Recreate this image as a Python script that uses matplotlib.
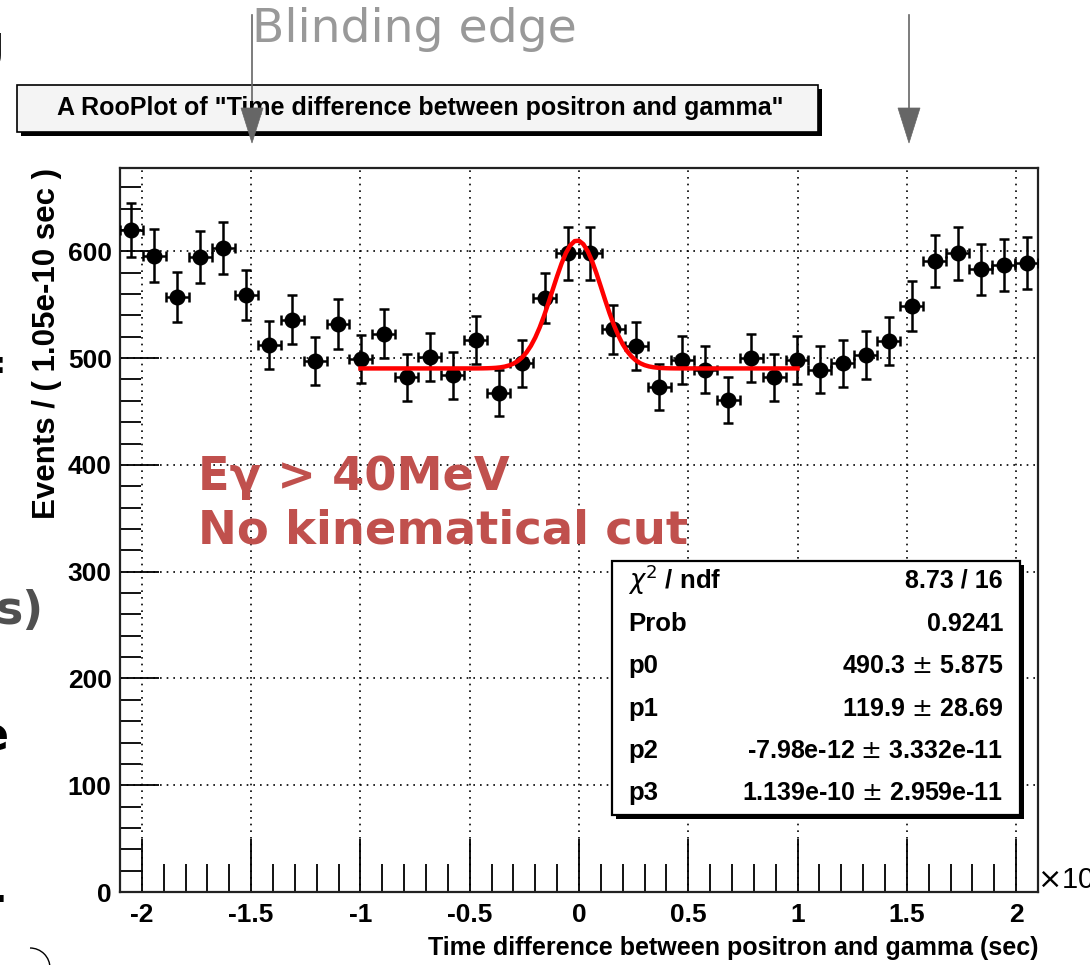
import numpy as np
import matplotlib
matplotlib.use("Agg")
import matplotlib.pyplot as plt
from matplotlib.patches import Rectangle, Polygon, Arc
from matplotlib.lines import Line2D

# ---------------- data ----------------
bin_lo, bin_hi, n_bins = -2.1, 2.1, 40          # units of 1e-9 s
counts = [620, 596, 557, 595, 603, 559, 512, 536, 497, 532,
          499, 523, 482, 501, 484, 517, 467, 495, 556, 598,
          598, 527, 511, 473, 498, 489, 461, 500, 482, 498,
          489, 495, 503, 516, 549, 591, 598, 583, 587, 589]
fit_p0, fit_p1, fit_p2, fit_p3 = 490.3, 119.9, -7.98e-12, 1.139e-10
fit_range = (-1.0, 1.0)
x_ticks = [-2, -1.5, -1, -0.5, 0, 0.5, 1, 1.5, 2]
x_ticklabels = ["-2", "-1.5", "-1", "-0.5", "0", "0.5", "1", "1.5", "2"]
y_ticks = [0, 100, 200, 300, 400, 500, 600]
stat_names = ["$\\chi^{2}$ / ndf", "Prob", "p0", "p1", "p2", "p3"]
stat_values = ["8.73 / 16", "0.9241", "490.3 $\\pm$ 5.875", "119.9 $\\pm$ 28.69",
               "-7.98e-12 $\\pm$ 3.332e-11", "1.139e-10 $\\pm$ 2.959e-11"]
title_text = 'A RooPlot of "Time difference between positron and gamma"'
xlabel_text = "Time difference between positron and gamma (sec)"
ylabel_text = "Events / ( 1.05e-10 sec )"

W, H = 1090, 965
ROOT_FONT = ["Liberation Sans", "DejaVu Sans"]

fig = plt.figure(figsize=(W / 100, H / 100), dpi=100)
fig.patch.set_facecolor("white")

def fx(x):
    return x / W

def fy(y):
    return 1 - y / H

ax_l, ax_r, ax_t, ax_b = 120, 1038, 168, 892
ax = fig.add_axes([fx(ax_l), fy(ax_b), fx(ax_r - ax_l), (ax_b - ax_t) / H])

# data
width = (bin_hi - bin_lo) / n_bins
centers = bin_lo + width * (np.arange(n_bins) + 0.5)
counts_arr = np.array(counts, dtype=float)
ax.errorbar(centers, counts_arr, xerr=width / 2, yerr=np.sqrt(counts_arr),
            fmt="o", color="black", ms=10.5, capsize=3.5, elinewidth=1.8,
            capthick=1.8, zorder=3)

# fit curve
xs = np.linspace(fit_range[0], fit_range[1], 101)
ys = fit_p0 + fit_p1 * np.exp(-0.5 * ((xs * 1e-9 - fit_p2) / fit_p3) ** 2)
ax.plot(xs, ys, color="#ff0000", lw=3.2, zorder=4)

ax.set_xlim(bin_lo, bin_hi)
ax.set_ylim(0, 678)
ax.set_xticks(x_ticks)
ax.set_xticklabels(x_ticklabels)
ax.set_xticks(np.arange(-2.1, 2.11, 0.1), minor=True)
ax.set_yticks(y_ticks)
ax.set_yticks(np.arange(0, 678, 20), minor=True)
ax.tick_params(axis="x", which="major", direction="in", length=38, width=1.3,
               pad=8, top=False)
ax.tick_params(axis="x", which="minor", direction="in", length=20, width=1.3,
               top=False)
ax.tick_params(axis="y", which="major", direction="in", length=28, width=1.3,
               pad=6, right=False)
ax.tick_params(axis="y", which="minor", direction="in", length=15, width=1.3,
               right=False)
for lab in ax.get_xticklabels() + ax.get_yticklabels():
    lab.set_fontfamily(ROOT_FONT)
    lab.set_fontweight("bold")
    lab.set_fontsize(19)
ax.grid(True, which="major", color="black", linestyle=(0, (1, 3)), lw=1.2)
ax.set_axisbelow(True)
for s in ax.spines.values():
    s.set_linewidth(1.6)
    s.set_color("#222222")

# axis labels
fig.text(fx(ax_r), fy(948), xlabel_text, ha="right", va="center",
         fontsize=18, fontweight="bold", family=ROOT_FONT)
fig.text(fx(47), fy(ax_t), ylabel_text, ha="center", va="top", rotation=90,
         fontsize=22.5, fontweight="bold", family=ROOT_FONT)
fig.text(fx(1037), fy(880), "$\\times$10$^{-9}$", ha="left", va="center",
         fontsize=21, family=ROOT_FONT)

# title box
tb_l, tb_t, tb_r, tb_b = 17, 85, 818, 132
fig.add_artist(Rectangle((fx(tb_l + 4), fy(tb_b + 4)), fx(tb_r - tb_l), (tb_b - tb_t) / H,
                         transform=fig.transFigure, facecolor="black",
                         edgecolor="black", lw=0))
fig.add_artist(Rectangle((fx(tb_l), fy(tb_b)), fx(tb_r - tb_l), (tb_b - tb_t) / H,
                         transform=fig.transFigure, facecolor="#f4f4f4",
                         edgecolor="black", lw=1.2))
fig.text(fx(420), fy(108), title_text, ha="center", va="center",
         fontsize=18, fontweight="bold", family=ROOT_FONT)

# stats box
sb_l, sb_t, sb_r, sb_b = 612, 561, 1020, 815
fig.add_artist(Rectangle((fx(sb_l + 4), fy(sb_b + 4)), fx(sb_r - sb_l), (sb_b - sb_t) / H,
                         transform=fig.transFigure, facecolor="black",
                         edgecolor="black", lw=0, zorder=5))
fig.add_artist(Rectangle((fx(sb_l), fy(sb_b)), fx(sb_r - sb_l), (sb_b - sb_t) / H,
                         transform=fig.transFigure, facecolor="white",
                         edgecolor="black", lw=1.6, zorder=6))
row_y = [580, 624, 666, 709, 751, 793]
for name, val, yy in zip(stat_names, stat_values, row_y):
    fig.text(fx(628), fy(yy), name, ha="left", va="center", fontsize=18.5,
             fontweight="bold", family=ROOT_FONT, zorder=7)
    fig.text(fx(1003), fy(yy), val, ha="right", va="center", fontsize=18,
             fontweight="bold", family=ROOT_FONT, zorder=7)

# red slide annotation
red = "#c0504d"
fig.text(fx(198), fy(477), "E\u03b3 > 40MeV", ha="left", va="center",
         fontsize=33.3, fontweight="bold", color=red, family="DejaVu Sans", zorder=8)
fig.text(fx(198), fy(531), "No kinematical cut", ha="left", va="center",
         fontsize=33.5, fontweight="bold", color=red, family="DejaVu Sans", zorder=8)

# blinding edge annotation
fig.text(fx(252), fy(29), "Blinding edge", ha="left", va="center",
         fontsize=34, color="#999999", family="DejaVu Sans")
for ax_x in (252, 909):
    fig.add_artist(Line2D([fx(ax_x), fx(ax_x)], [fy(15), fy(110)],
                          transform=fig.transFigure, color="#666666", lw=1.2))
    fig.add_artist(Polygon([(fx(ax_x - 11), fy(108)), (fx(ax_x + 11), fy(108)),
                            (fx(ax_x), fy(143))], closed=True,
                           transform=fig.transFigure, facecolor="#666666",
                           edgecolor="#666666", lw=0.5, zorder=9))

# cut-off slide text on the left edge
fig.text(fx(4), fy(45), "g", ha="right", va="center", fontsize=33,
         color="black", family="DejaVu Sans")
fig.text(fx(7), fy(368), "=", ha="right", va="center", fontsize=33,
         fontweight="bold", color="black", family="DejaVu Sans")
fig.text(fx(44), fy(612), "s)", ha="right", va="center", fontsize=33,
         fontweight="bold", color="#505050", family="DejaVu Sans")
fig.text(fx(9), fy(738), "e", ha="right", va="center", fontsize=33,
         fontweight="bold", color="black", family="DejaVu Sans")
fig.text(fx(6), fy(900), "-", ha="right", va="center", fontsize=33,
         fontweight="bold", color="black", family="DejaVu Sans")
fig.add_artist(Arc((fx(30), fy(968)), fx(40), 40 / H, theta1=0, theta2=90,
                   transform=fig.transFigure, color="black", lw=1))

fig.savefig("out.png", dpi=100)
